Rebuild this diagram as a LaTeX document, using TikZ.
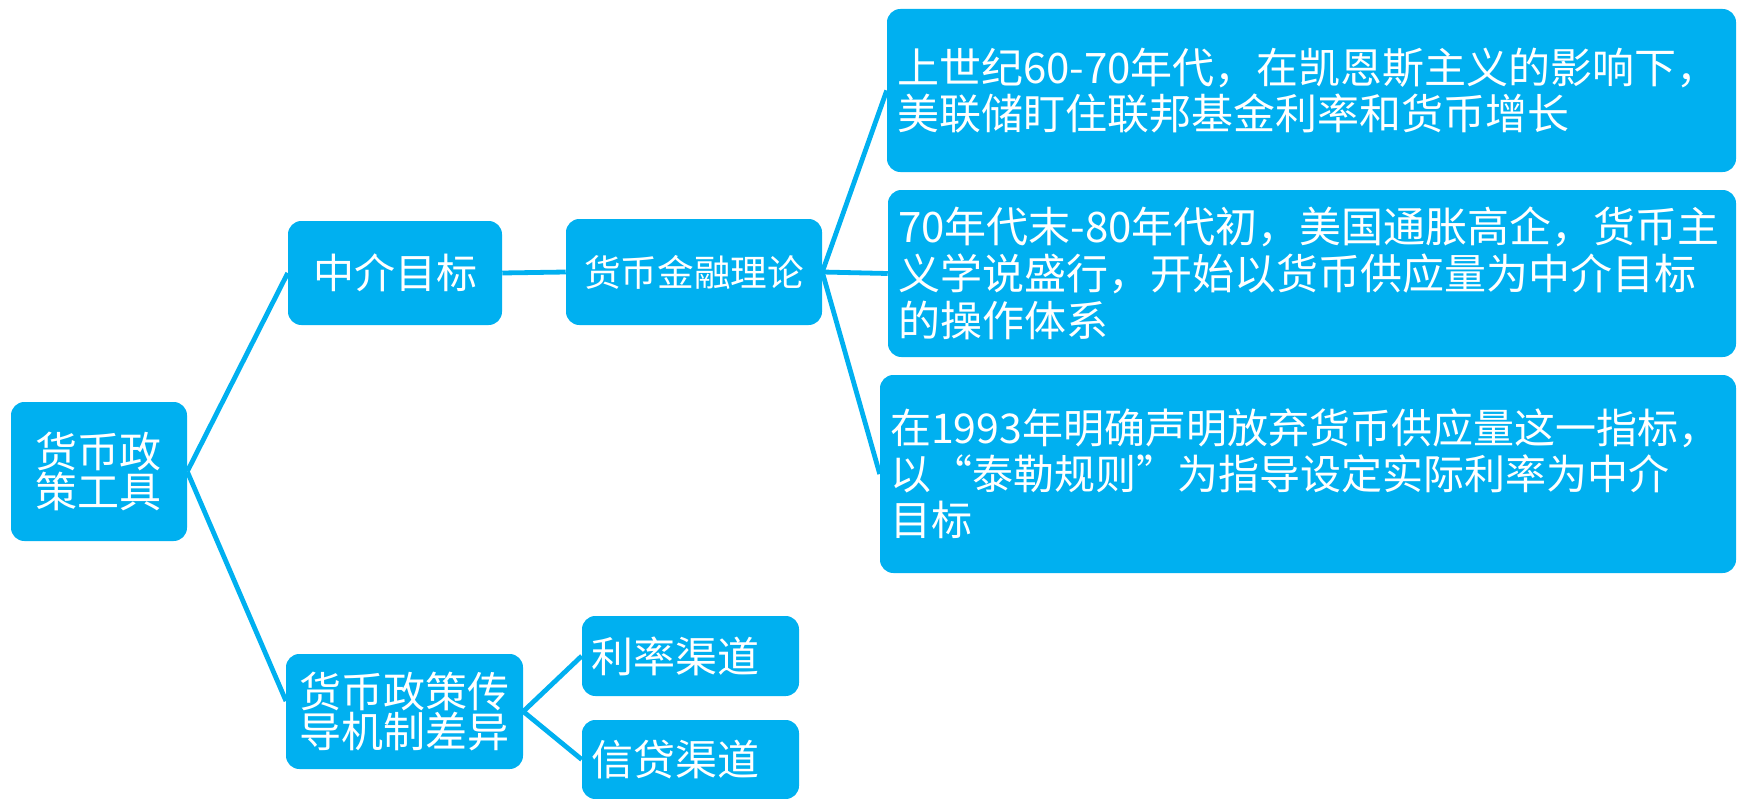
\documentclass[tikz,border=0pt]{standalone}
\usepackage{fontspec}
\newfontfamily\cjk{Noto Sans CJK SC}
\definecolor{pblue}{HTML}{00B0F0}
\begin{document}
\begin{tikzpicture}[x=0.75pt,y=-0.75pt,
  box/.style={fill=pblue, rounded corners=10pt, text=white, inner sep=0pt},
  link/.style={draw=pblue, line width=3.6pt},
  bigtxt/.style={font=\cjk\fontsize{31.5}{35}\selectfont},
  roottxt/.style={font=\cjk\fontsize{31.5}{30}\selectfont},
]
\useasboundingbox (0,0) rectangle (1738,799);
% level 0
\node[box, roottxt, align=center, minimum width=132pt, minimum height=104.25pt] (root) at (99,471.5) {货币政\\策工具};
% level 1
\node[box, font=\cjk\fontsize{30.75}{34}\selectfont, align=center, minimum width=160.5pt, minimum height=78pt] (mid) at (395,273) {中介目标};
\node[box, roottxt, align=center, minimum width=177.75pt, minimum height=86.25pt] (chd) at (404.5,711.5) {货币政策传\\导机制差异};
\coordinate (chdin) at (286,701);
% level 2
\node[box, font=\cjk\fontsize{27.5}{30}\selectfont, align=center, minimum width=192pt, minimum height=79.5pt] (theory) at (694,272) {货币金融理论};
\node[box, bigtxt, align=left, text width=149.25pt, inner xsep=6.75pt, minimum height=60pt] (rate) at (690.5,656) {利率渠道};
\node[box, bigtxt, align=left, text width=149.25pt, inner xsep=6.75pt, minimum height=59.25pt] (credit) at (690.5,759.5) {信贷渠道};
% level 3
\node[box, bigtxt, align=left, text width=621.75pt, inner xsep=7.5pt, minimum height=122.25pt] (b1) at (1311.5,90.5)
  {上世纪60-70年代，在凯恩斯主义的影响下，\\美联储盯住联邦基金利率和货币增长};
\node[box, bigtxt, align=left, text width=621pt, inner xsep=7.5pt, minimum height=125.25pt] (b2) at (1312,273.5)
  {70年代末-80年代初，美国通胀高企，货币主\\义学说盛行，开始以货币供应量为中介目标\\的操作体系};
\node[box, font=\cjk\fontsize{30.75}{34.5}\selectfont, align=left, text width=627pt, inner xsep=7.5pt, minimum height=148.5pt] (b3) at (1308,474)
  {在1993年明确声明放弃货币供应量这一指标，\\以“泰勒规则”为指导设定实际利率为中介\\目标};
% connectors
\draw[link] (root.east) -- (mid.west);
\draw[link] (root.east) -- (chdin);
\draw[link] (mid.east) -- (theory.west);
\draw[link] (theory.east) -- (b1.west);
\draw[link] (theory.east) -- (b2.west);
\draw[link] (theory.east) -- (b3.west);
\draw[link] (chd.east) -- (rate.west);
\draw[link] (chd.east) -- (credit.west);
\end{tikzpicture}
\end{document}
